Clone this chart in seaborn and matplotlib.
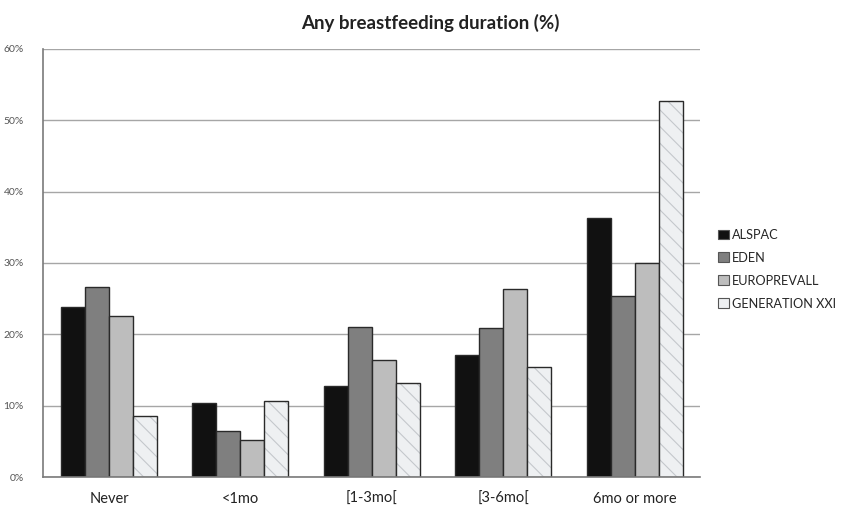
import numpy as np
import pandas as pd
import matplotlib
matplotlib.use("Agg")
import matplotlib.pyplot as plt
from matplotlib.patches import Patch
from matplotlib.ticker import FuncFormatter, MultipleLocator
import seaborn as sns

categories = ["Never", "<1mo", "[1-3mo[", "[3-6mo[", "6mo or more"]
cohorts = ["ALSPAC", "EDEN", "EUROPREVALL", "GENERATION XXI"]
alspac = [23.8, 10.4, 12.8, 17.1, 36.3]
eden = [26.6, 6.5, 21.0, 20.9, 25.4]
europrevall = [22.5, 5.2, 16.4, 26.4, 30.0]
generation_xxi = [8.6, 10.7, 13.2, 15.4, 52.7]

colors = ["#111111", "#7f7f7f", "#bdbdbd", "#eef0f2"]

df = pd.DataFrame({
    "duration": categories * 4,
    "cohort": sum([[c] * len(categories) for c in cohorts], []),
    "pct": alspac + eden + europrevall + generation_xxi,
})

sns.set_theme(style="white")
plt.rcParams["font.family"] = ["Lato", "DejaVu Sans"]
plt.rcParams["hatch.linewidth"] = 0.8

fig = plt.figure(figsize=(8.48, 5.08), dpi=100)
ax = fig.add_axes([0.051, 0.061, 0.775, 0.843])

sns.barplot(data=df, x="duration", y="pct", hue="cohort", order=categories,
            hue_order=cohorts, palette=colors, width=0.73, ax=ax,
            edgecolor="#2a2a2a", linewidth=1.0, legend=False, saturation=1)

# textured fill for the last cohort
n = len(categories)
for i, bar in enumerate(ax.patches[:4 * n]):
    if i // n == 3:
        bar.set_hatch("\\\\")
        bar.set_facecolor("#eef0f2")
        bar._hatch_color = matplotlib.colors.to_rgba("#c4c8cc")

ax.set_ylim(0, 60)
ax.set_xlim(-0.5, n - 0.5)
ax.yaxis.set_major_locator(MultipleLocator(10))
ax.yaxis.set_major_formatter(FuncFormatter(lambda v, _: f"{v:.0f}%"))
ax.grid(axis="y", color="#a6a6a6", linewidth=1.0)
ax.set_axisbelow(True)
for s in ["top", "right"]:
    ax.spines[s].set_visible(False)
for s in ["left", "bottom"]:
    ax.spines[s].set_color("#7a7a7a")
    ax.spines[s].set_linewidth(1.2)

ax.set_xticks(np.arange(n))
ax.set_xticklabels(categories, fontsize=10.5, color="#222222")
ax.set_xticks(np.arange(n + 1) - 0.5, minor=True)
ax.tick_params(axis="x", which="major", length=0, pad=11)
ax.tick_params(axis="x", which="minor", length=4, direction="out", color="#7a7a7a")
ax.tick_params(axis="y", length=4, direction="out", color="#7a7a7a",
               labelsize=7.5, labelcolor="#555555", pad=10)
ax.set_xlabel("")
ax.set_ylabel("")

fig.text(0.507, 0.955, "Any breastfeeding duration (%)", ha="center", va="center",
         fontsize=13.5, fontweight="bold", color="#222222")

handles = [Patch(facecolor=c, edgecolor="#555555", linewidth=0.8) for c in colors]
leg = fig.legend(handles, cohorts, loc="center left", bbox_to_anchor=(0.838, 0.47),
                 frameon=False, fontsize=9.2, handlelength=0.8, handleheight=0.8,
                 handletextpad=0.3, labelspacing=0.85, borderaxespad=0.2)

fig.savefig("out.png", dpi=100)
